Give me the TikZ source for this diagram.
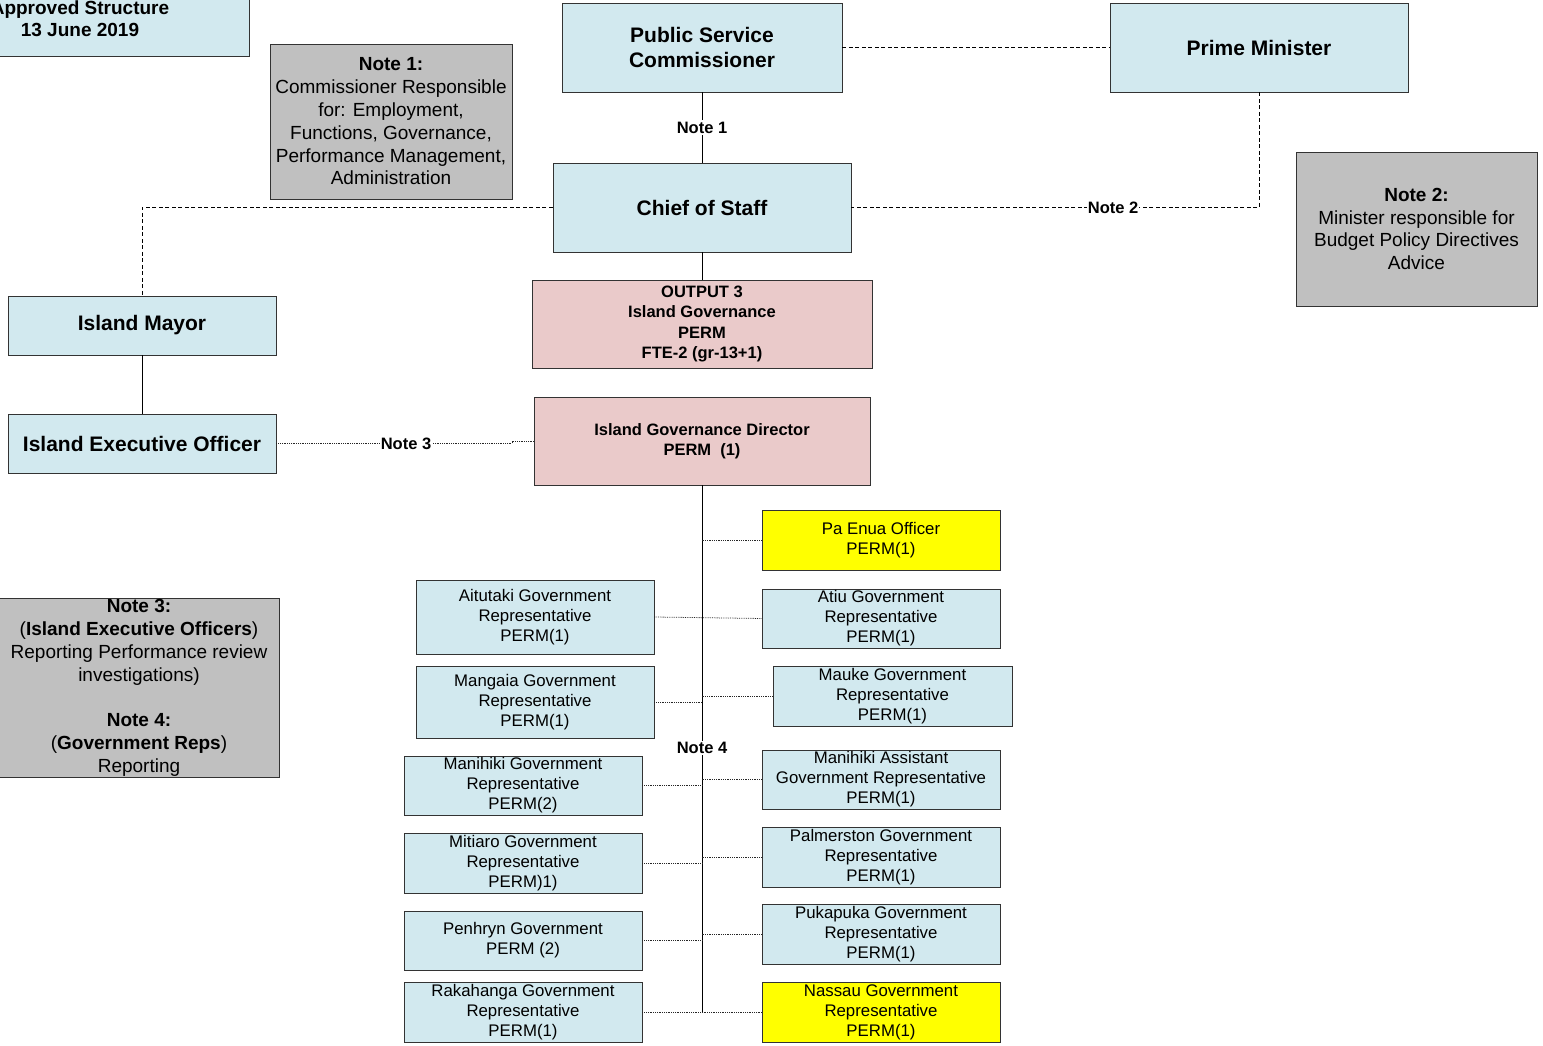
\documentclass[tikz,border=0pt]{standalone}
\usepackage{fontspec}
\setmainfont{Liberation Sans}
\begin{document}
\definecolor{paleblue}{HTML}{D2E9EF}
\definecolor{palepink}{HTML}{EACACA}
\definecolor{notegray}{HTML}{C0C0C0}
\definecolor{hilite}{HTML}{FFFF00}
\newcommand\headfont{\fontsize{21}{25}\selectfont\bfseries}
\newcommand\midfont{\fontsize{16.5}{20.5}\selectfont\bfseries}
\newcommand\repfont{\fontsize{16.8}{20}\selectfont}
\newcommand\notefont{\fontsize{19}{22.8}\selectfont}
\begin{tikzpicture}[x=1pt,y=-1pt,
  box/.style={draw=black!80,line width=0.9pt,inner sep=0pt,align=center},
  blue/.style={box,fill=paleblue},
  pink/.style={box,fill=palepink,font=\midfont},
  note/.style={box,fill=notegray,font=\notefont},
  rep/.style={box,fill=paleblue,font=\repfont},
  yrep/.style={box,fill=hilite,font=\repfont},
  solidline/.style={draw=black,line width=0.9pt},
  dashline/.style={draw=black,line width=0.8pt,dash pattern=on 4pt off 2.5pt},
  branch/.style={draw=black!85,line width=0.8pt,densely dotted},
  lbl/.style={fill=white,inner sep=1.5pt,font=\fontsize{16.5}{20}\selectfont\bfseries}]
\useasboundingbox (0,0) rectangle (1543,1046);

% top row
\node[blue,minimum width=338,minimum height=74,font=\fontsize{19}{22}\selectfont\bfseries] (appr) at (80,19) {Approved Structure\\13 June 2019};
\node[note,minimum width=242,minimum height=155] (note1) at (391,121.5) {\textbf{Note 1:}\\Commissioner Responsible\\for: Employment,\\Functions, Governance,\\Performance Management,\\Administration};
\node[blue,minimum width=280,minimum height=89,font=\headfont] (psc) at (702,47.5) {Public Service\\Commissioner};
\node[blue,minimum width=298,minimum height=89,font=\headfont] (pm) at (1259,47.5) {Prime Minister};
\node[blue,minimum width=298,minimum height=89,font=\headfont] (cos) at (702,207.5) {Chief of Staff};
\node[note,minimum width=241,minimum height=154] (note2) at (1416.5,229) {\textbf{Note 2:}\\Minister responsible for\\Budget Policy Directives\\Advice};

% island side
\node[blue,minimum width=268,minimum height=59,font=\headfont] (mayor) at (142,325.5) {Island Mayor};
\node[blue,minimum width=268,minimum height=59,font=\headfont] (ieo) at (142,443.5) {Island Executive Officer};
\node[note,minimum width=280,minimum height=179] (note34) at (139,688) {\textbf{Note 3:}\\(\textbf{Island Executive Officers})\\Reporting Performance review\\investigations)\\[22.8pt]\textbf{Note 4:}\\(\textbf{Government Reps})\\Reporting};

% governance
\node[pink,minimum width=340,minimum height=88] (out3) at (702,324) {OUTPUT 3\\Island Governance\\PERM\\FTE-2 (gr-13+1)};
\node[pink,minimum width=336,minimum height=88] (igd) at (702,441) {Island Governance Director\\PERM\ \ (1)};

% representatives
\node[yrep,minimum width=238,minimum height=60] (paenua) at (881,540) {Pa Enua Officer\\PERM(1)};
\node[rep,minimum width=238,minimum height=74] (aitutaki) at (535,617) {Aitutaki Government\\Representative\\PERM(1)};
\node[rep,minimum width=238,minimum height=59] (atiu) at (881,618.5) {Atiu Government\\Representative\\PERM(1)};
\node[rep,minimum width=238,minimum height=72] (mangaia) at (535,702) {Mangaia Government\\Representative\\PERM(1)};
\node[rep,minimum width=239,minimum height=60] (mauke) at (892.5,696) {Mauke Government\\Representative\\PERM(1)};
\node[rep,minimum width=238,minimum height=59] (manihiki) at (523,785.5) {Manihiki Government\\Representative\\PERM(2)};
\node[rep,minimum width=238,minimum height=59] (maniasst) at (881,779.5) {Manihiki Assistant\\Government Representative\\PERM(1)};
\node[rep,minimum width=238,minimum height=60] (mitiaro) at (523,863) {Mitiaro Government\\Representative\\PERM)1)};
\node[rep,minimum width=238,minimum height=60] (palm) at (881,857) {Palmerston Government\\Representative\\PERM(1)};
\node[rep,minimum width=238,minimum height=59] (penhryn) at (523,940.5) {Penhryn Government\\PERM (2)};
\node[rep,minimum width=238,minimum height=60] (puka) at (881,934) {Pukapuka Government\\Representative\\PERM(1)};
\node[rep,minimum width=238,minimum height=60] (raka) at (523,1012) {Rakahanga Government\\Representative\\PERM(1)};
\node[yrep,minimum width=238,minimum height=60] (nassau) at (881,1012) {Nassau Government\\Representative\\PERM(1)};

% reporting lines
\draw[solidline] (psc.south) -- node[lbl] {Note 1} (cos.north);
\draw[dashline] (psc.east) -- (pm.west);
\draw[dashline] (pm.south) |- node[lbl,pos=0.679,inner sep=0.5pt] {Note 2} (cos.east);
\draw[dashline] (cos.west) -| (mayor.north);
\draw[solidline] (mayor.south) -- (ieo.north);
\draw[solidline] (cos.south) -- (out3.north);
\coordinate (jog) at (512,443.5);
\draw[branch] (ieo.east) -- node[lbl,pos=0.55,inner sep=0.5pt] {Note 3} (jog) |- (igd.west);

% spine under the director
\coordinate (spineend) at (702,1012);
\draw[solidline] (igd.south) -- node[lbl,pos=0.499] {Note 4} (spineend);
\draw[branch] (paenua.west) -- (paenua.west -| spineend);
\draw[branch] (aitutaki.east) -- (atiu.west);
\draw[branch] (mangaia.east) -- (mangaia.east -| spineend);
\draw[branch] (mauke.west) -- (mauke.west -| spineend);
\draw[branch] (manihiki.east) -- (manihiki.east -| spineend);
\draw[branch] (maniasst.west) -- (maniasst.west -| spineend);
\draw[branch] (mitiaro.east) -- (mitiaro.east -| spineend);
\draw[branch] (palm.west) -- (palm.west -| spineend);
\draw[branch] (penhryn.east) -- (penhryn.east -| spineend);
\draw[branch] (puka.west) -- (puka.west -| spineend);
\draw[branch] (raka.east) -- (nassau.west);
\end{tikzpicture}
\end{document}
